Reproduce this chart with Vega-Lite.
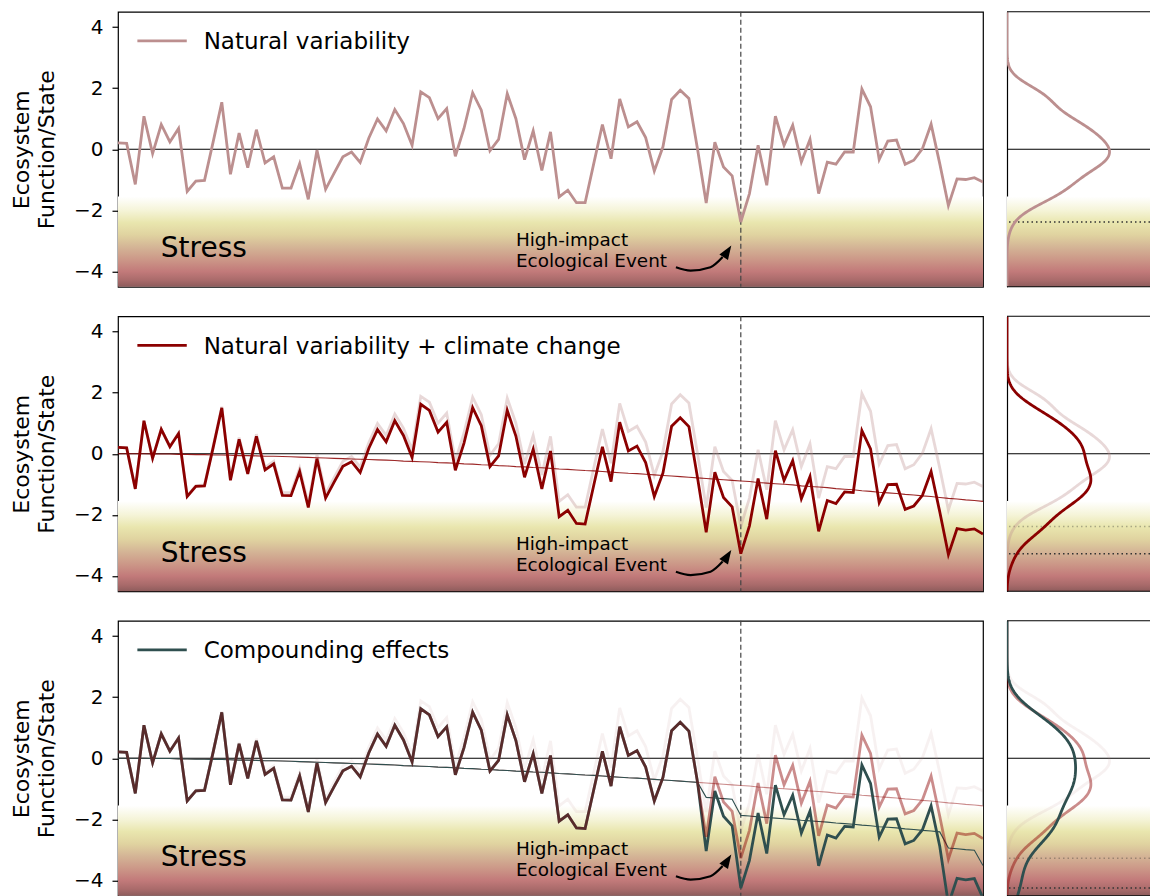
{
"$schema":"https://vega.github.io/schema/vega-lite/v6.json",
"padding":{"left":5,"top":9.75,"right":0,"bottom":0},
"background":"white",
"spacing":25.5,
"config":{"font":"DejaVu Sans","view":{"stroke":"black","strokeWidth":1.2}},
"datasets":{
"d":[
{"i":0,"n":0.21,"c":0.21,"g":0.21,"tc":0,"tg":0},
{"i":1,"n":0.19,"c":0.19,"g":0.19,"tc":0,"tg":0},
{"i":2,"n":-1.15,"c":-1.15,"g":-1.15,"tc":0,"tg":0},
{"i":3,"n":1.08,"c":1.08,"g":1.08,"tc":0,"tg":0},
{"i":4,"n":-0.14,"c":-0.15,"g":-0.15,"tc":-0.01,"tg":-0.01},
{"i":5,"n":0.81,"c":0.80,"g":0.80,"tc":-0.01,"tg":-0.01},
{"i":6,"n":0.24,"c":0.23,"g":0.23,"tc":-0.01,"tg":-0.01},
{"i":7,"n":0.68,"c":0.66,"g":0.66,"tc":-0.02,"tg":-0.02},
{"i":8,"n":-1.38,"c":-1.40,"g":-1.40,"tc":-0.02,"tg":-0.02},
{"i":9,"n":-1.04,"c":-1.07,"g":-1.07,"tc":-0.03,"tg":-0.03},
{"i":10,"n":-1.02,"c":-1.05,"g":-1.05,"tc":-0.03,"tg":-0.03},
{"i":11,"n":0.24,"c":0.20,"g":0.20,"tc":-0.04,"tg":-0.04},
{"i":12,"n":1.54,"c":1.50,"g":1.50,"tc":-0.04,"tg":-0.04},
{"i":13,"n":-0.82,"c":-0.87,"g":-0.87,"tc":-0.05,"tg":-0.05},
{"i":14,"n":0.53,"c":0.47,"g":0.47,"tc":-0.06,"tg":-0.06},
{"i":15,"n":-0.60,"c":-0.66,"g":-0.66,"tc":-0.06,"tg":-0.06},
{"i":16,"n":0.64,"c":0.57,"g":0.57,"tc":-0.07,"tg":-0.07},
{"i":17,"n":-0.45,"c":-0.53,"g":-0.53,"tc":-0.08,"tg":-0.08},
{"i":18,"n":-0.25,"c":-0.33,"g":-0.33,"tc":-0.08,"tg":-0.08},
{"i":19,"n":-1.27,"c":-1.36,"g":-1.36,"tc":-0.09,"tg":-0.09},
{"i":20,"n":-1.27,"c":-1.37,"g":-1.37,"tc":-0.10,"tg":-0.10},
{"i":21,"n":-0.47,"c":-0.58,"g":-0.58,"tc":-0.11,"tg":-0.11},
{"i":22,"n":-1.64,"c":-1.76,"g":-1.76,"tc":-0.12,"tg":-0.12},
{"i":23,"n":-0.03,"c":-0.16,"g":-0.16,"tc":-0.13,"tg":-0.13},
{"i":24,"n":-1.31,"c":-1.45,"g":-1.45,"tc":-0.14,"tg":-0.14},
{"i":25,"n":-0.77,"c":-0.92,"g":-0.92,"tc":-0.15,"tg":-0.15},
{"i":26,"n":-0.25,"c":-0.41,"g":-0.41,"tc":-0.16,"tg":-0.16},
{"i":27,"n":-0.09,"c":-0.26,"g":-0.26,"tc":-0.17,"tg":-0.17},
{"i":28,"n":-0.43,"c":-0.61,"g":-0.61,"tc":-0.18,"tg":-0.18},
{"i":29,"n":0.37,"c":0.18,"g":0.18,"tc":-0.19,"tg":-0.19},
{"i":30,"n":0.99,"c":0.79,"g":0.79,"tc":-0.20,"tg":-0.20},
{"i":31,"n":0.60,"c":0.39,"g":0.39,"tc":-0.21,"tg":-0.21},
{"i":32,"n":1.30,"c":1.08,"g":1.08,"tc":-0.22,"tg":-0.22},
{"i":33,"n":0.84,"c":0.60,"g":0.60,"tc":-0.24,"tg":-0.24},
{"i":34,"n":0.13,"c":-0.12,"g":-0.12,"tc":-0.25,"tg":-0.25},
{"i":35,"n":1.88,"c":1.62,"g":1.62,"tc":-0.26,"tg":-0.26},
{"i":36,"n":1.69,"c":1.42,"g":1.42,"tc":-0.27,"tg":-0.27},
{"i":37,"n":1.00,"c":0.71,"g":0.71,"tc":-0.29,"tg":-0.29},
{"i":38,"n":1.33,"c":1.03,"g":1.03,"tc":-0.30,"tg":-0.30},
{"i":39,"n":-0.23,"c":-0.54,"g":-0.54,"tc":-0.31,"tg":-0.31},
{"i":40,"n":0.68,"c":0.35,"g":0.35,"tc":-0.33,"tg":-0.33},
{"i":41,"n":1.85,"c":1.51,"g":1.51,"tc":-0.34,"tg":-0.34},
{"i":42,"n":1.28,"c":0.92,"g":0.92,"tc":-0.36,"tg":-0.36},
{"i":43,"n":-0.05,"c":-0.42,"g":-0.42,"tc":-0.37,"tg":-0.37},
{"i":44,"n":0.32,"c":-0.07,"g":-0.07,"tc":-0.39,"tg":-0.39},
{"i":45,"n":1.82,"c":1.42,"g":1.42,"tc":-0.40,"tg":-0.40},
{"i":46,"n":1.00,"c":0.58,"g":0.58,"tc":-0.42,"tg":-0.42},
{"i":47,"n":-0.34,"c":-0.77,"g":-0.77,"tc":-0.43,"tg":-0.43},
{"i":48,"n":0.60,"c":0.15,"g":0.15,"tc":-0.45,"tg":-0.45},
{"i":49,"n":-0.69,"c":-1.15,"g":-1.15,"tc":-0.46,"tg":-0.46},
{"i":50,"n":0.57,"c":0.09,"g":0.09,"tc":-0.48,"tg":-0.48},
{"i":51,"n":-1.56,"c":-2.06,"g":-2.06,"tc":-0.50,"tg":-0.50},
{"i":52,"n":-1.34,"c":-1.85,"g":-1.85,"tc":-0.51,"tg":-0.51},
{"i":53,"n":-1.75,"c":-2.28,"g":-2.28,"tc":-0.53,"tg":-0.53},
{"i":54,"n":-1.75,"c":-2.30,"g":-2.30,"tc":-0.55,"tg":-0.55},
{"i":55,"n":-0.47,"c":-1.03,"g":-1.03,"tc":-0.56,"tg":-0.56},
{"i":56,"n":0.81,"c":0.23,"g":0.23,"tc":-0.58,"tg":-0.58},
{"i":57,"n":-0.31,"c":-0.91,"g":-0.91,"tc":-0.60,"tg":-0.60},
{"i":58,"n":1.65,"c":1.03,"g":1.03,"tc":-0.62,"tg":-0.62},
{"i":59,"n":0.73,"c":0.09,"g":0.09,"tc":-0.64,"tg":-0.64},
{"i":60,"n":0.90,"c":0.25,"g":0.25,"tc":-0.65,"tg":-0.65},
{"i":61,"n":0.38,"c":-0.29,"g":-0.29,"tc":-0.67,"tg":-0.67},
{"i":62,"n":-0.71,"c":-1.40,"g":-1.40,"tc":-0.69,"tg":-0.69},
{"i":63,"n":0.08,"c":-0.63,"g":-0.63,"tc":-0.71,"tg":-0.71},
{"i":64,"n":1.63,"c":0.90,"g":0.90,"tc":-0.73,"tg":-0.73},
{"i":65,"n":1.93,"c":1.18,"g":1.18,"tc":-0.75,"tg":-0.75},
{"i":66,"n":1.66,"c":0.89,"g":0.89,"tc":-0.77,"tg":-0.77},
{"i":67,"n":0.00,"c":-0.79,"g":-0.79,"tc":-0.79,"tg":-0.79},
{"i":68,"n":-1.76,"c":-2.57,"g":-3.04,"tc":-0.81,"tg":-1.28},
{"i":69,"n":0.23,"c":-0.60,"g":-1.07,"tc":-0.83,"tg":-1.30},
{"i":70,"n":-0.58,"c":-1.43,"g":-1.90,"tc":-0.85,"tg":-1.32},
{"i":71,"n":-0.87,"c":-1.74,"g":-2.21,"tc":-0.87,"tg":-1.34},
{"i":72,"n":-2.38,"c":-3.27,"g":-4.25,"tc":-0.89,"tg":-1.87},
{"i":73,"n":-1.45,"c":-2.36,"g":-3.34,"tc":-0.91,"tg":-1.89},
{"i":74,"n":0.13,"c":-0.81,"g":-1.79,"tc":-0.94,"tg":-1.92},
{"i":75,"n":-1.18,"c":-2.14,"g":-3.12,"tc":-0.96,"tg":-1.94},
{"i":76,"n":1.08,"c":0.10,"g":-0.88,"tc":-0.98,"tg":-1.96},
{"i":77,"n":0.13,"c":-0.87,"g":-1.85,"tc":-1.00,"tg":-1.98},
{"i":78,"n":0.79,"c":-0.23,"g":-1.21,"tc":-1.02,"tg":-2.00},
{"i":79,"n":-0.42,"c":-1.47,"g":-2.45,"tc":-1.05,"tg":-2.03},
{"i":80,"n":0.32,"c":-0.75,"g":-1.73,"tc":-1.07,"tg":-2.05},
{"i":81,"n":-1.45,"c":-2.54,"g":-3.52,"tc":-1.09,"tg":-2.07},
{"i":82,"n":-0.42,"c":-1.53,"g":-2.51,"tc":-1.11,"tg":-2.09},
{"i":83,"n":-0.49,"c":-1.63,"g":-2.61,"tc":-1.14,"tg":-2.12},
{"i":84,"n":-0.09,"c":-1.25,"g":-2.23,"tc":-1.16,"tg":-2.14},
{"i":85,"n":-0.09,"c":-1.27,"g":-2.25,"tc":-1.18,"tg":-2.16},
{"i":86,"n":1.97,"c":0.76,"g":-0.22,"tc":-1.21,"tg":-2.19},
{"i":87,"n":1.39,"c":0.16,"g":-0.82,"tc":-1.23,"tg":-2.21},
{"i":88,"n":-0.34,"c":-1.60,"g":-2.58,"tc":-1.26,"tg":-2.24},
{"i":89,"n":0.27,"c":-1.01,"g":-1.99,"tc":-1.28,"tg":-2.26},
{"i":90,"n":0.30,"c":-1.00,"g":-1.98,"tc":-1.30,"tg":-2.28},
{"i":91,"n":-0.49,"c":-1.82,"g":-2.80,"tc":-1.33,"tg":-2.31},
{"i":92,"n":-0.36,"c":-1.71,"g":-2.69,"tc":-1.35,"tg":-2.33},
{"i":93,"n":0.02,"c":-1.36,"g":-2.34,"tc":-1.38,"tg":-2.36},
{"i":94,"n":0.82,"c":-0.58,"g":-1.56,"tc":-1.40,"tg":-2.38},
{"i":95,"n":-0.47,"c":-1.90,"g":-2.88,"tc":-1.43,"tg":-2.41},
{"i":96,"n":-1.84,"c":-3.30,"g":-4.78,"tc":-1.46,"tg":-2.94},
{"i":97,"n":-0.97,"c":-2.45,"g":-3.93,"tc":-1.48,"tg":-2.96},
{"i":98,"n":-0.99,"c":-2.50,"g":-3.98,"tc":-1.51,"tg":-2.99},
{"i":99,"n":-0.93,"c":-2.46,"g":-3.94,"tc":-1.53,"tg":-3.01},
{"i":100,"n":-1.07,"c":-2.63,"g":-4.58,"tc":-1.56,"tg":-3.51}
],
"arrow":[{"ax":64.5,"ay":-3.86},{"ax":66.2,"ay":-3.97},{"ax":68.5,"ay":-3.86},{"ax":69.9,"ay":-3.53}]
},
"vconcat":[
{"spacing":21,"hconcat":[
{"width":865,"height":275,"data":{"name":"d"},"layer":[
{"data":{"values":[{}]},"mark":{"type":"rect","fill":{"gradient":"linear","x1":0,"y1":0,"x2":0,"y2":1,"stops":[{"offset":0,"color":"#ffffff"},{"offset":0.153,"color":"#f5f4d8"},{"offset":0.288,"color":"#e9e6ae"},{"offset":0.424,"color":"#e0d3a0"},{"offset":0.559,"color":"#d4b596"},{"offset":0.695,"color":"#cc9888"},{"offset":0.83,"color":"#c27a7a"},{"offset":0.932,"color":"#a86a6a"},{"offset":1,"color":"#8e5c5c"}]}},
"encoding":{"x":{"datum":0,"type":"quantitative","scale":{"domain":[0,100],"nice":false,"zero":false},"axis":null},"x2":{"datum":100},
"y":{"datum":-1.55,"type":"quantitative","scale":{"domain":[-4.5,4.5],"nice":false,"zero":false},"axis":{"values":[-4,-2,0,2,4],"title":["Ecosystem","Function/State"],"titleFontSize":22,"titleFontWeight":"normal","titleColor":"black","titleX":-107,"titleY":137.5,"titleAngle":-90,"titleBaseline":"top","titleAlign":"center","titleLineHeight":25,"labelFontSize":20,"labelColor":"black","labelPadding":9,"tickSize":6,"tickWidth":1.2,"tickColor":"black","domain":false,"grid":false,"minExtent":112,"maxExtent":112}},"y2":{"datum":-4.5}}},
{"data":{"values":[{}]},"mark":{"type":"rule","color":"black","strokeWidth":1},"encoding":{"y":{"datum":0,"type":"quantitative"}}},
{"data":{"values":[{}]},"mark":{"type":"rule","color":"#444444","strokeWidth":1.2,"strokeDash":[5,3]},"encoding":{"x":{"datum":72,"type":"quantitative","axis":null}}},
{"mark":{"type":"line","color":"#bc8f8f","strokeWidth":2.8,"clip":true},"encoding":{"x":{"field":"i","type":"quantitative","axis":null},"y":{"field":"n","type":"quantitative"}}},
{"data":{"values":[{}]},"mark":{"type":"rule","color":"#bc8f8f","strokeWidth":2.8},"encoding":{"x":{"datum":2.24,"type":"quantitative","axis":null},"x2":{"datum":7.95},"y":{"datum":3.55,"type":"quantitative"}}},
{"data":{"values":[{}]},"mark":{"type":"text","text":"Natural variability","align":"left","baseline":"alphabetic","fontSize":23,"color":"black"},"encoding":{"x":{"datum":9.9,"type":"quantitative","axis":null},"y":{"datum":3.28,"type":"quantitative"}}},
{"data":{"values":[{}]},"mark":{"type":"text","text":"Stress","align":"left","baseline":"alphabetic","fontSize":28,"color":"black"},"encoding":{"x":{"datum":4.95,"type":"quantitative","axis":null},"y":{"datum":-3.53,"type":"quantitative"}}},
{"data":{"values":[{}]},"mark":{"type":"text","text":"High-impact","align":"left","baseline":"alphabetic","fontSize":18.4,"color":"black"},"encoding":{"x":{"datum":46.0,"type":"quantitative","axis":null},"y":{"datum":-3.15,"type":"quantitative"}}},
{"data":{"values":[{}]},"mark":{"type":"text","text":"Ecological Event","align":"left","baseline":"alphabetic","fontSize":18.4,"color":"black"},"encoding":{"x":{"datum":46.0,"type":"quantitative","axis":null},"y":{"datum":-3.84,"type":"quantitative"}}},
{"data":{"name":"arrow"},"mark":{"type":"line","color":"black","strokeWidth":2.2,"interpolate":"monotone"},"encoding":{"x":{"field":"ax","type":"quantitative","axis":null},"y":{"field":"ay","type":"quantitative"}}},
{"data":{"values":[{}]},"mark":{"type":"point","shape":"M0,0L-0.55,1.5L0.55,1.5Z","filled":true,"color":"black","opacity":1,"size":346,"angle":33},"encoding":{"x":{"datum":70.9,"type":"quantitative","axis":null},"y":{"datum":-3.15,"type":"quantitative"}}}
]},
{"width":143,"height":275,"view":{"stroke":null},"data":{"name":"d"},"layer":[
{"data":{"values":[{}]},"mark":{"type":"rect","fill":{"gradient":"linear","x1":0,"y1":0,"x2":0,"y2":1,"stops":[{"offset":0,"color":"#ffffff"},{"offset":0.153,"color":"#f5f4d8"},{"offset":0.288,"color":"#e9e6ae"},{"offset":0.424,"color":"#e0d3a0"},{"offset":0.559,"color":"#d4b596"},{"offset":0.695,"color":"#cc9888"},{"offset":0.83,"color":"#c27a7a"},{"offset":0.932,"color":"#a86a6a"},{"offset":1,"color":"#8e5c5c"}]}},
"encoding":{"x":{"datum":0,"type":"quantitative","scale":{"domain":[0,0.49],"nice":false,"zero":false},"axis":null},"x2":{"datum":0.49},
"y":{"datum":-1.55,"type":"quantitative","scale":{"domain":[-4.5,4.5],"nice":false,"zero":false},"axis":{"labels":false,"ticks":false,"title":null,"domain":true,"domainColor":"black","domainWidth":1.2,"grid":false,"minExtent":0,"maxExtent":0}},"y2":{"datum":-4.5}}},
{"data":{"values":[{}]},"mark":{"type":"rule","color":"black","strokeWidth":1},"encoding":{"y":{"datum":0,"type":"quantitative"}}},
{"data":{"values":[{}]},"mark":{"type":"rule","color":"#333333","strokeWidth":1.5,"strokeDash":[1.5,3]},"encoding":{"y":{"datum":-2.38,"type":"quantitative"}}},
{"transform":[{"density":"n","bandwidth":0.39,"extent":[-4.5,4.5],"steps":200,"as":["val","dens"]}],"mark":{"type":"line","color":"#bc8f8f","strokeWidth":2.8,"clip":true},"encoding":{"x":{"field":"dens","type":"quantitative","axis":null},"y":{"field":"val","type":"quantitative"},"order":{"field":"val","type":"quantitative"}}},
{"data":{"values":[{}]},"mark":{"type":"rule","color":"black","strokeWidth":1.2},"encoding":{"y":{"datum":4.5,"type":"quantitative"}}},
{"data":{"values":[{}]},"mark":{"type":"rule","color":"black","strokeWidth":1.2},"encoding":{"y":{"datum":-4.5,"type":"quantitative"}}}
]}
]},
{"spacing":21,"hconcat":[
{"width":865,"height":275,"data":{"name":"d"},"layer":[
{"data":{"values":[{}]},"mark":{"type":"rect","fill":{"gradient":"linear","x1":0,"y1":0,"x2":0,"y2":1,"stops":[{"offset":0,"color":"#ffffff"},{"offset":0.153,"color":"#f5f4d8"},{"offset":0.288,"color":"#e9e6ae"},{"offset":0.424,"color":"#e0d3a0"},{"offset":0.559,"color":"#d4b596"},{"offset":0.695,"color":"#cc9888"},{"offset":0.83,"color":"#c27a7a"},{"offset":0.932,"color":"#a86a6a"},{"offset":1,"color":"#8e5c5c"}]}},
"encoding":{"x":{"datum":0,"type":"quantitative","scale":{"domain":[0,100],"nice":false,"zero":false},"axis":null},"x2":{"datum":100},
"y":{"datum":-1.55,"type":"quantitative","scale":{"domain":[-4.5,4.5],"nice":false,"zero":false},"axis":{"values":[-4,-2,0,2,4],"title":["Ecosystem","Function/State"],"titleFontSize":22,"titleFontWeight":"normal","titleColor":"black","titleX":-107,"titleY":137.5,"titleAngle":-90,"titleBaseline":"top","titleAlign":"center","titleLineHeight":25,"labelFontSize":20,"labelColor":"black","labelPadding":9,"tickSize":6,"tickWidth":1.2,"tickColor":"black","domain":false,"grid":false,"minExtent":112,"maxExtent":112}},"y2":{"datum":-4.5}}},
{"data":{"values":[{}]},"mark":{"type":"rule","color":"black","strokeWidth":1},"encoding":{"y":{"datum":0,"type":"quantitative"}}},
{"data":{"values":[{}]},"mark":{"type":"rule","color":"#444444","strokeWidth":1.2,"strokeDash":[5,3]},"encoding":{"x":{"datum":72,"type":"quantitative","axis":null}}},
{"mark":{"type":"line","color":"#bc8f8f","opacity":0.35,"strokeWidth":2.8,"clip":true},"encoding":{"x":{"field":"i","type":"quantitative","axis":null},"y":{"field":"n","type":"quantitative"}}},
{"mark":{"type":"line","color":"#8b0000","opacity":0.85,"strokeWidth":1.1,"clip":true},"encoding":{"x":{"field":"i","type":"quantitative","axis":null},"y":{"field":"tc","type":"quantitative"}}},
{"mark":{"type":"line","color":"#8b0000","strokeWidth":2.8,"clip":true},"encoding":{"x":{"field":"i","type":"quantitative","axis":null},"y":{"field":"c","type":"quantitative"}}},
{"data":{"values":[{}]},"mark":{"type":"rule","color":"#8b0000","strokeWidth":2.8},"encoding":{"x":{"datum":2.24,"type":"quantitative","axis":null},"x2":{"datum":7.95},"y":{"datum":3.55,"type":"quantitative"}}},
{"data":{"values":[{}]},"mark":{"type":"text","text":"Natural variability + climate change","align":"left","baseline":"alphabetic","fontSize":23,"color":"black"},"encoding":{"x":{"datum":9.9,"type":"quantitative","axis":null},"y":{"datum":3.28,"type":"quantitative"}}},
{"data":{"values":[{}]},"mark":{"type":"text","text":"Stress","align":"left","baseline":"alphabetic","fontSize":28,"color":"black"},"encoding":{"x":{"datum":4.95,"type":"quantitative","axis":null},"y":{"datum":-3.53,"type":"quantitative"}}},
{"data":{"values":[{}]},"mark":{"type":"text","text":"High-impact","align":"left","baseline":"alphabetic","fontSize":18.4,"color":"black"},"encoding":{"x":{"datum":46.0,"type":"quantitative","axis":null},"y":{"datum":-3.15,"type":"quantitative"}}},
{"data":{"values":[{}]},"mark":{"type":"text","text":"Ecological Event","align":"left","baseline":"alphabetic","fontSize":18.4,"color":"black"},"encoding":{"x":{"datum":46.0,"type":"quantitative","axis":null},"y":{"datum":-3.84,"type":"quantitative"}}},
{"data":{"name":"arrow"},"mark":{"type":"line","color":"black","strokeWidth":2.2,"interpolate":"monotone"},"encoding":{"x":{"field":"ax","type":"quantitative","axis":null},"y":{"field":"ay","type":"quantitative"}}},
{"data":{"values":[{}]},"mark":{"type":"point","shape":"M0,0L-0.55,1.5L0.55,1.5Z","filled":true,"color":"black","opacity":1,"size":346,"angle":33},"encoding":{"x":{"datum":70.9,"type":"quantitative","axis":null},"y":{"datum":-3.15,"type":"quantitative"}}}
]},
{"width":143,"height":275,"view":{"stroke":null},"data":{"name":"d"},"layer":[
{"data":{"values":[{}]},"mark":{"type":"rect","fill":{"gradient":"linear","x1":0,"y1":0,"x2":0,"y2":1,"stops":[{"offset":0,"color":"#ffffff"},{"offset":0.153,"color":"#f5f4d8"},{"offset":0.288,"color":"#e9e6ae"},{"offset":0.424,"color":"#e0d3a0"},{"offset":0.559,"color":"#d4b596"},{"offset":0.695,"color":"#cc9888"},{"offset":0.83,"color":"#c27a7a"},{"offset":0.932,"color":"#a86a6a"},{"offset":1,"color":"#8e5c5c"}]}},
"encoding":{"x":{"datum":0,"type":"quantitative","scale":{"domain":[0,0.49],"nice":false,"zero":false},"axis":null},"x2":{"datum":0.49},
"y":{"datum":-1.55,"type":"quantitative","scale":{"domain":[-4.5,4.5],"nice":false,"zero":false},"axis":{"labels":false,"ticks":false,"title":null,"domain":true,"domainColor":"black","domainWidth":1.2,"grid":false,"minExtent":0,"maxExtent":0}},"y2":{"datum":-4.5}}},
{"data":{"values":[{}]},"mark":{"type":"rule","color":"black","strokeWidth":1},"encoding":{"y":{"datum":0,"type":"quantitative"}}},
{"data":{"values":[{}]},"mark":{"type":"rule","color":"#333333","opacity":0.35,"strokeWidth":1.5,"strokeDash":[1.5,3]},"encoding":{"y":{"datum":-2.38,"type":"quantitative"}}},
{"data":{"values":[{}]},"mark":{"type":"rule","color":"#333333","strokeWidth":1.5,"strokeDash":[1.5,3]},"encoding":{"y":{"datum":-3.27,"type":"quantitative"}}},
{"transform":[{"density":"n","bandwidth":0.39,"extent":[-4.5,4.5],"steps":200,"as":["val","dens"]}],"mark":{"type":"line","color":"#bc8f8f","opacity":0.35,"strokeWidth":2.8,"clip":true},"encoding":{"x":{"field":"dens","type":"quantitative","axis":null},"y":{"field":"val","type":"quantitative"},"order":{"field":"val","type":"quantitative"}}},
{"transform":[{"density":"c","bandwidth":0.44,"extent":[-4.5,4.5],"steps":200,"as":["val","dens"]}],"mark":{"type":"line","color":"#8b0000","strokeWidth":2.8,"clip":true},"encoding":{"x":{"field":"dens","type":"quantitative","axis":null},"y":{"field":"val","type":"quantitative"},"order":{"field":"val","type":"quantitative"}}},
{"data":{"values":[{}]},"mark":{"type":"rule","color":"black","strokeWidth":1.2},"encoding":{"y":{"datum":4.5,"type":"quantitative"}}},
{"data":{"values":[{}]},"mark":{"type":"rule","color":"black","strokeWidth":1.2},"encoding":{"y":{"datum":-4.5,"type":"quantitative"}}}
]}
]},
{"spacing":21,"hconcat":[
{"width":865,"height":275,"data":{"name":"d"},"layer":[
{"data":{"values":[{}]},"mark":{"type":"rect","fill":{"gradient":"linear","x1":0,"y1":0,"x2":0,"y2":1,"stops":[{"offset":0,"color":"#ffffff"},{"offset":0.153,"color":"#f5f4d8"},{"offset":0.288,"color":"#e9e6ae"},{"offset":0.424,"color":"#e0d3a0"},{"offset":0.559,"color":"#d4b596"},{"offset":0.695,"color":"#cc9888"},{"offset":0.83,"color":"#c27a7a"},{"offset":0.932,"color":"#a86a6a"},{"offset":1,"color":"#8e5c5c"}]}},
"encoding":{"x":{"datum":0,"type":"quantitative","scale":{"domain":[0,100],"nice":false,"zero":false},"axis":null},"x2":{"datum":100},
"y":{"datum":-1.55,"type":"quantitative","scale":{"domain":[-4.5,4.5],"nice":false,"zero":false},"axis":{"values":[-4,-2,0,2,4],"title":["Ecosystem","Function/State"],"titleFontSize":22,"titleFontWeight":"normal","titleColor":"black","titleX":-107,"titleY":137.5,"titleAngle":-90,"titleBaseline":"top","titleAlign":"center","titleLineHeight":25,"labelFontSize":20,"labelColor":"black","labelPadding":9,"tickSize":6,"tickWidth":1.2,"tickColor":"black","domain":false,"grid":false,"minExtent":112,"maxExtent":112}},"y2":{"datum":-4.5}}},
{"data":{"values":[{}]},"mark":{"type":"rule","color":"black","strokeWidth":1},"encoding":{"y":{"datum":0,"type":"quantitative"}}},
{"data":{"values":[{}]},"mark":{"type":"rule","color":"#444444","strokeWidth":1.2,"strokeDash":[5,3]},"encoding":{"x":{"datum":72,"type":"quantitative","axis":null}}},
{"mark":{"type":"line","color":"#bc8f8f","opacity":0.12,"strokeWidth":2.8,"clip":true},"encoding":{"x":{"field":"i","type":"quantitative","axis":null},"y":{"field":"n","type":"quantitative"}}},
{"mark":{"type":"line","color":"#8b0000","opacity":0.45,"strokeWidth":1.1,"clip":true},"encoding":{"x":{"field":"i","type":"quantitative","axis":null},"y":{"field":"tc","type":"quantitative"}}},
{"mark":{"type":"line","color":"#2f4f4f","strokeWidth":1.1,"clip":true},"encoding":{"x":{"field":"i","type":"quantitative","axis":null},"y":{"field":"tg","type":"quantitative"}}},
{"mark":{"type":"line","color":"#2f4f4f","strokeWidth":2.8,"clip":true},"encoding":{"x":{"field":"i","type":"quantitative","axis":null},"y":{"field":"g","type":"quantitative"}}},
{"mark":{"type":"line","color":"#8b0000","opacity":0.45,"strokeWidth":2.8,"clip":true},"encoding":{"x":{"field":"i","type":"quantitative","axis":null},"y":{"field":"c","type":"quantitative"}}},
{"data":{"values":[{}]},"mark":{"type":"rule","color":"#2f4f4f","strokeWidth":2.8},"encoding":{"x":{"datum":2.24,"type":"quantitative","axis":null},"x2":{"datum":7.95},"y":{"datum":3.55,"type":"quantitative"}}},
{"data":{"values":[{}]},"mark":{"type":"text","text":"Compounding effects","align":"left","baseline":"alphabetic","fontSize":23,"color":"black"},"encoding":{"x":{"datum":9.9,"type":"quantitative","axis":null},"y":{"datum":3.28,"type":"quantitative"}}},
{"data":{"values":[{}]},"mark":{"type":"text","text":"Stress","align":"left","baseline":"alphabetic","fontSize":28,"color":"black"},"encoding":{"x":{"datum":4.95,"type":"quantitative","axis":null},"y":{"datum":-3.53,"type":"quantitative"}}},
{"data":{"values":[{}]},"mark":{"type":"text","text":"High-impact","align":"left","baseline":"alphabetic","fontSize":18.4,"color":"black"},"encoding":{"x":{"datum":46.0,"type":"quantitative","axis":null},"y":{"datum":-3.15,"type":"quantitative"}}},
{"data":{"values":[{}]},"mark":{"type":"text","text":"Ecological Event","align":"left","baseline":"alphabetic","fontSize":18.4,"color":"black"},"encoding":{"x":{"datum":46.0,"type":"quantitative","axis":null},"y":{"datum":-3.84,"type":"quantitative"}}},
{"data":{"name":"arrow"},"mark":{"type":"line","color":"black","strokeWidth":2.2,"interpolate":"monotone"},"encoding":{"x":{"field":"ax","type":"quantitative","axis":null},"y":{"field":"ay","type":"quantitative"}}},
{"data":{"values":[{}]},"mark":{"type":"point","shape":"M0,0L-0.55,1.5L0.55,1.5Z","filled":true,"color":"black","opacity":1,"size":346,"angle":33},"encoding":{"x":{"datum":70.9,"type":"quantitative","axis":null},"y":{"datum":-3.15,"type":"quantitative"}}}
]},
{"width":143,"height":275,"view":{"stroke":null},"data":{"name":"d"},"layer":[
{"data":{"values":[{}]},"mark":{"type":"rect","fill":{"gradient":"linear","x1":0,"y1":0,"x2":0,"y2":1,"stops":[{"offset":0,"color":"#ffffff"},{"offset":0.153,"color":"#f5f4d8"},{"offset":0.288,"color":"#e9e6ae"},{"offset":0.424,"color":"#e0d3a0"},{"offset":0.559,"color":"#d4b596"},{"offset":0.695,"color":"#cc9888"},{"offset":0.83,"color":"#c27a7a"},{"offset":0.932,"color":"#a86a6a"},{"offset":1,"color":"#8e5c5c"}]}},
"encoding":{"x":{"datum":0,"type":"quantitative","scale":{"domain":[0,0.49],"nice":false,"zero":false},"axis":null},"x2":{"datum":0.49},
"y":{"datum":-1.55,"type":"quantitative","scale":{"domain":[-4.5,4.5],"nice":false,"zero":false},"axis":{"labels":false,"ticks":false,"title":null,"domain":true,"domainColor":"black","domainWidth":1.2,"grid":false,"minExtent":0,"maxExtent":0}},"y2":{"datum":-4.5}}},
{"data":{"values":[{}]},"mark":{"type":"rule","color":"black","strokeWidth":1},"encoding":{"y":{"datum":0,"type":"quantitative"}}},
{"data":{"values":[{}]},"mark":{"type":"rule","color":"#333333","opacity":0.35,"strokeWidth":1.5,"strokeDash":[1.5,3]},"encoding":{"y":{"datum":-3.27,"type":"quantitative"}}},
{"data":{"values":[{}]},"mark":{"type":"rule","color":"#333333","strokeWidth":1.5,"strokeDash":[1.5,3]},"encoding":{"y":{"datum":-4.25,"type":"quantitative"}}},
{"transform":[{"density":"n","bandwidth":0.39,"extent":[-4.5,4.5],"steps":200,"as":["val","dens"]}],"mark":{"type":"line","color":"#bc8f8f","opacity":0.12,"strokeWidth":2.8,"clip":true},"encoding":{"x":{"field":"dens","type":"quantitative","axis":null},"y":{"field":"val","type":"quantitative"},"order":{"field":"val","type":"quantitative"}}},
{"transform":[{"density":"c","bandwidth":0.44,"extent":[-4.5,4.5],"steps":200,"as":["val","dens"]}],"mark":{"type":"line","color":"#8b0000","opacity":0.45,"strokeWidth":2.8,"clip":true},"encoding":{"x":{"field":"dens","type":"quantitative","axis":null},"y":{"field":"val","type":"quantitative"},"order":{"field":"val","type":"quantitative"}}},
{"transform":[{"density":"g","bandwidth":0.54,"extent":[-4.5,4.5],"steps":200,"as":["val","dens"]}],"mark":{"type":"line","color":"#2f4f4f","strokeWidth":2.8,"clip":true},"encoding":{"x":{"field":"dens","type":"quantitative","axis":null},"y":{"field":"val","type":"quantitative"},"order":{"field":"val","type":"quantitative"}}},
{"data":{"values":[{}]},"mark":{"type":"rule","color":"black","strokeWidth":1.2},"encoding":{"y":{"datum":4.5,"type":"quantitative"}}},
{"data":{"values":[{}]},"mark":{"type":"rule","color":"black","strokeWidth":1.2},"encoding":{"y":{"datum":-4.5,"type":"quantitative"}}}
]}
]}
]
}
